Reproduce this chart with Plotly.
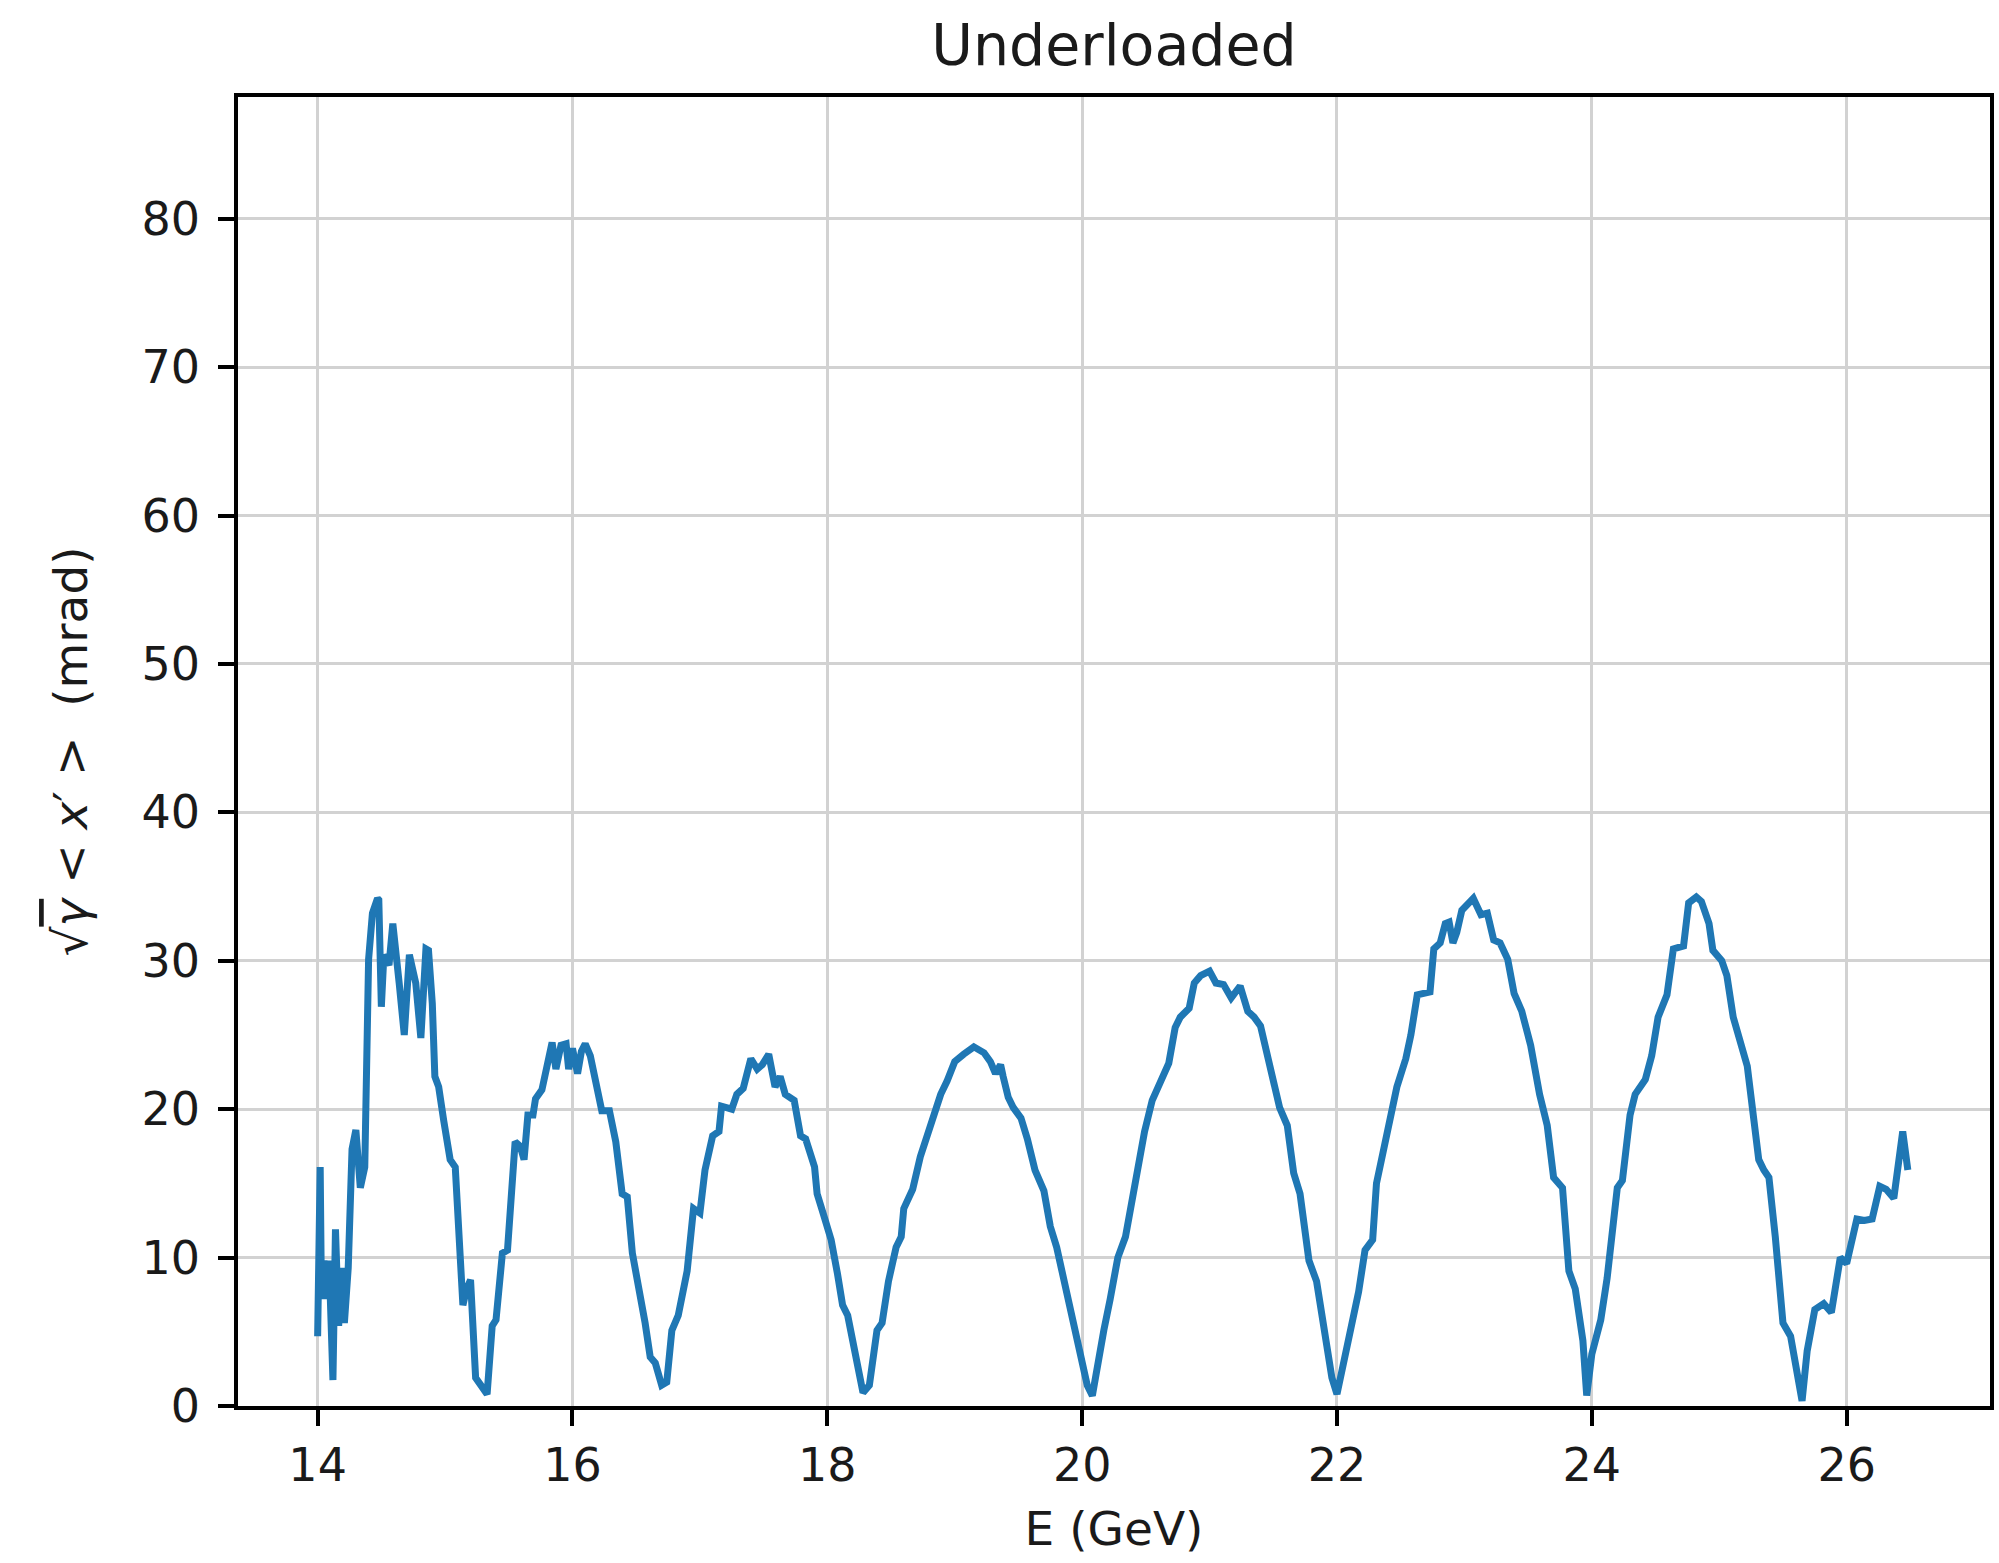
import plotly.graph_objects as go

# Beam energy (GeV) and normalised divergence sqrt(gamma)<x'> (mrad)
energy_gev = [
    14.00, 14.01, 14.02, 14.03, 14.05, 14.07, 14.09, 14.12, 14.14, 14.165,
    14.19, 14.21, 14.24, 14.27, 14.30, 14.335, 14.37, 14.40, 14.43, 14.47,
    14.48, 14.50, 14.52, 14.56, 14.59, 14.64, 14.68, 14.72, 14.77, 14.81,
    14.85, 14.87, 14.90, 14.92, 14.95, 14.99, 15.04, 15.08, 15.11, 15.14,
    15.17, 15.20, 15.24, 15.28, 15.33, 15.37, 15.40, 15.45, 15.49, 15.55,
    15.59, 15.62, 15.65, 15.69, 15.71, 15.76, 15.80, 15.84, 15.87, 15.91,
    15.95, 15.97, 16.00, 16.04, 16.07, 16.10, 16.14, 16.21, 16.23, 16.29,
    16.34, 16.39, 16.43, 16.47, 16.52, 16.57, 16.61, 16.65, 16.70, 16.74,
    16.78, 16.83, 16.90, 16.95, 17.00, 17.04, 17.10, 17.15, 17.17, 17.25,
    17.29, 17.34, 17.40, 17.45, 17.49, 17.54, 17.59, 17.63, 17.67, 17.74,
    17.79, 17.83, 17.90, 17.92, 17.97, 18.03, 18.08, 18.12, 18.16, 18.22,
    18.28, 18.33, 18.39, 18.43, 18.48, 18.54, 18.58, 18.60, 18.67, 18.73,
    18.81, 18.89, 18.94, 19.00, 19.07, 19.15, 19.23, 19.28, 19.32, 19.36,
    19.38, 19.42, 19.46, 19.52, 19.57, 19.63, 19.70, 19.75, 19.80, 19.87,
    19.93, 19.99, 20.04, 20.08, 20.12, 20.17, 20.22, 20.28, 20.34, 20.39,
    20.43, 20.49, 20.55, 20.62, 20.68, 20.73, 20.77, 20.84, 20.88, 20.93,
    21.00, 21.05, 21.11, 21.17, 21.21, 21.24, 21.30, 21.35, 21.40, 21.48,
    21.55, 21.61, 21.66, 21.71, 21.78, 21.84, 21.90, 21.96, 22.00, 22.05,
    22.10, 22.17, 22.22, 22.28, 22.31, 22.37, 22.42, 22.47, 22.54, 22.58,
    22.63, 22.73, 22.76, 22.81, 22.85, 22.88, 22.91, 22.94, 22.98, 23.02,
    23.07, 23.13, 23.18, 23.23, 23.28, 23.34, 23.39, 23.45, 23.52, 23.59,
    23.65, 23.70, 23.77, 23.82, 23.87, 23.93, 23.96, 24.00, 24.07, 24.12,
    24.16, 24.20, 24.24, 24.27, 24.30, 24.34, 24.42, 24.47, 24.52, 24.59,
    24.64, 24.72, 24.76, 24.82, 24.86, 24.92, 24.95, 25.02, 25.06, 25.11,
    25.18, 25.22, 25.27, 25.31, 25.35, 25.39, 25.44, 25.48, 25.50, 25.56,
    25.61, 25.65, 25.69, 25.75, 25.82, 25.88, 25.95, 26.00, 26.08, 26.14,
    26.20, 26.26, 26.31, 26.37, 26.44, 26.48,
]

divergence_mrad = [
    4.7, 16.1, 16.1, 7.2, 9.8, 7.2, 9.8, 1.75, 11.9, 5.4,
    9.3, 5.6, 9.3, 17.3, 18.6, 14.7, 16.1, 30.1, 33.2, 34.2,
    34.1, 26.9, 30.4, 29.7, 32.5, 28.5, 25.0, 30.4, 28.5, 24.8,
    30.8, 30.7, 27.1, 22.2, 21.5, 19.2, 16.6, 16.1, 11.4, 6.8,
    7.9, 8.5, 1.9, 1.4, 0.8, 5.4, 5.8, 10.3, 10.5, 17.8,
    17.5, 16.6, 19.6, 19.6, 20.7, 21.3, 22.7, 24.5, 22.7, 24.3,
    24.4, 22.7, 24.1, 22.4, 23.9, 24.4, 23.6, 20.6, 19.9, 19.9,
    17.8, 14.3, 14.1, 10.3, 8.2, 5.6, 3.3, 2.9, 1.4, 1.6,
    5.1, 6.1, 9.1, 13.3, 13.0, 15.9, 18.2, 18.5, 20.2, 20.0,
    21.0, 21.4, 23.4, 22.7, 23.0, 23.7, 21.5, 22.2, 21.0, 20.6,
    18.2, 18.0, 16.1, 14.3, 12.9, 11.2, 8.9, 6.8, 6.1, 3.3,
    0.9, 1.4, 5.1, 5.6, 8.4, 10.7, 11.4, 13.3, 14.6, 16.8,
    18.9, 21.0, 21.9, 23.2, 23.7, 24.2, 23.8, 23.2, 22.4, 23.0,
    22.2, 20.8, 20.1, 19.4, 18.0, 15.9, 14.5, 12.1, 10.7, 7.9,
    5.6, 3.3, 1.4, 0.7, 2.8, 5.1, 7.2, 10.0, 11.4, 14.0,
    15.9, 18.5, 20.6, 22.0, 23.1, 25.5, 26.2, 26.8, 28.5, 29.0,
    29.3, 28.5, 28.4, 27.5, 27.9, 28.3, 26.6, 26.2, 25.6, 22.9,
    20.1, 18.9, 15.7, 14.3, 9.8, 8.4, 5.1, 1.9, 0.8, 2.8,
    5.1, 7.7, 10.5, 11.2, 15.0, 17.3, 19.6, 21.5, 23.4, 25.0,
    27.7, 27.9, 30.8, 31.2, 32.5, 32.6, 31.2, 31.9, 33.4, 33.8,
    34.2, 33.1, 33.2, 31.4, 31.2, 30.1, 27.8, 26.6, 24.3, 21.0,
    18.9, 15.4, 14.7, 9.1, 7.9, 4.4, 0.7, 3.5, 5.8, 8.6,
    11.7, 14.7, 15.2, 17.8, 19.6, 21.0, 22.0, 23.6, 26.2, 27.7,
    30.8, 31.0, 33.9, 34.3, 34.0, 32.5, 30.7, 30.0, 29.0, 26.2,
    24.3, 22.9, 19.4, 16.6, 15.9, 15.4, 11.4, 7.9, 5.6, 4.7,
    2.3, 0.35, 3.7, 6.5, 6.9, 6.3, 10.0, 9.6, 12.6, 12.5,
    12.6, 14.8, 14.6, 14.0, 18.5, 15.9,
]

x_ticks = [14, 16, 18, 20, 22, 24, 26]
y_ticks = [0, 10, 20, 30, 40, 50, 60, 70, 80]

FONT = "DejaVu Sans"
TEXT_COLOR = "#1a1a1a"

fig = go.Figure(
    go.Scatter(
        x=energy_gev,
        y=divergence_mrad,
        mode="lines",
        line=dict(color="#1f77b4", width=7),
        showlegend=False,
    )
)

axis_common = dict(
    showgrid=True,
    gridcolor="#d2d2d2",
    gridwidth=3,
    zeroline=False,
    showline=True,
    linecolor="black",
    linewidth=3.5,
    mirror=True,
    ticks="outside",
    ticklen=16,
    tickwidth=3.5,
    tickcolor="black",
    tickfont=dict(family=FONT, size=46, color=TEXT_COLOR),
)

fig.update_xaxes(
    range=[13.375, 27.125],
    tickmode="array",
    tickvals=x_ticks,
    ticktext=[str(v) for v in x_ticks],
    title=dict(text="E (GeV)", font=dict(family=FONT, size=47, color=TEXT_COLOR), standoff=22),
    **axis_common,
)
fig.update_yaxes(
    range=[0, 88.2],
    tickmode="array",
    tickvals=y_ticks,
    ticktext=[str(v) for v in y_ticks],
    ticklabelstandoff=9,
    title=dict(
        text="√<span style='text-decoration:overline'><i>γ</i></span> &lt; <i>x</i>′ &gt;  (mrad)",
        font=dict(family=FONT, size=47, color=TEXT_COLOR),
        standoff=40,
    ),
    **axis_common,
)

fig.update_layout(
    width=1999,
    height=1563,
    margin=dict(l=238, r=9, t=97, b=157, autoexpand=False),
    paper_bgcolor="white",
    plot_bgcolor="white",
    font=dict(family=FONT, color=TEXT_COLOR),
    title=dict(
        text="Underloaded",
        x=0.5,
        xref="paper",
        xanchor="center",
        y=1 - 45 / 1563,
        yref="container",
        yanchor="middle",
        font=dict(family=FONT, size=57, color=TEXT_COLOR),
    ),
)

fig.write_html(
    "out.html",
    post_script="document.body.style.margin='0';document.body.style.padding='0';",
)
